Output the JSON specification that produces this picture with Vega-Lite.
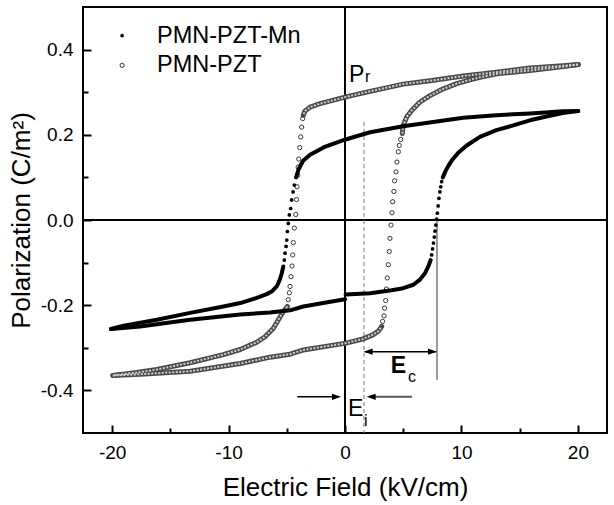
{
"$schema": "https://vega.github.io/schema/vega-lite/v6.json",
"width": 524, "height": 426,
"autosize": {"type": "none"},
"padding": {"left": 83, "top": 7, "right": 7, "bottom": 72},
"background": "white",
"config": {"view": {"stroke": "black", "strokeWidth": 2}, "font": "Liberation Sans"},
"resolve": {"axis": {"x": "independent", "y": "independent"}},
"datasets": {
"loops": [
{"i":1,"s":"A","g":"A1","E":20.03,"P":0.256},{"i":2,"s":"A","g":"A1","E":18.7,"P":0.255},{"i":3,"s":"A","g":"A1","E":15.9,"P":0.25},{"i":4,"s":"A","g":"A1","E":13.0,"P":0.246},{"i":5,"s":"A","g":"A1","E":10.15,"P":0.24},{"i":6,"s":"A","g":"A1","E":7.87,"P":0.231},{"i":7,"s":"A","g":"A1","E":5.0,"P":0.22},{"i":8,"s":"A","g":"A1","E":2.15,"P":0.206},{"i":9,"s":"A","g":"A1","E":0.05,"P":0.189},{"i":10,"s":"A","g":"A1","E":-1.8,"P":0.171},{"i":11,"s":"A","g":"A1","E":-3.0,"P":0.153},{"i":12,"s":"A","g":"A1","E":-3.6,"P":0.139},{"i":13,"s":"A","g":"A1","E":-4.0,"P":0.118},{"i":14,"s":"A","g":"A1","E":-4.2,"P":0.1},
{"i":15,"s":"A","g":"","E":-4.35,"P":0.082},{"i":16,"s":"A","g":"","E":-4.46,"P":0.066},{"i":17,"s":"A","g":"","E":-4.58,"P":0.047},{"i":18,"s":"A","g":"","E":-4.66,"P":0.027},{"i":19,"s":"A","g":"","E":-4.78,"P":0.012},{"i":20,"s":"A","g":"","E":-4.87,"P":-0.008},{"i":21,"s":"A","g":"","E":-4.95,"P":-0.027},{"i":22,"s":"A","g":"","E":-5.0,"P":-0.047},{"i":23,"s":"A","g":"","E":-5.06,"P":-0.062},{"i":24,"s":"A","g":"","E":-5.15,"P":-0.078},{"i":25,"s":"A","g":"","E":-5.21,"P":-0.094},
{"i":26,"s":"A","g":"A2","E":-5.3,"P":-0.109},{"i":27,"s":"A","g":"A2","E":-5.43,"P":-0.125},{"i":28,"s":"A","g":"A2","E":-5.6,"P":-0.14},{"i":29,"s":"A","g":"A2","E":-5.86,"P":-0.156},{"i":30,"s":"A","g":"A2","E":-6.3,"P":-0.168},{"i":31,"s":"A","g":"A2","E":-6.72,"P":-0.174},{"i":32,"s":"A","g":"A2","E":-7.58,"P":-0.183},{"i":33,"s":"A","g":"A2","E":-9.0,"P":-0.195},{"i":34,"s":"A","g":"A2","E":-10.45,"P":-0.203},{"i":35,"s":"A","g":"A2","E":-13.3,"P":-0.218},{"i":36,"s":"A","g":"A2","E":-16.16,"P":-0.234},{"i":37,"s":"A","g":"A2","E":-19.0,"P":-0.248},{"i":38,"s":"A","g":"A2","E":-20.1,"P":-0.256},
{"i":39,"s":"A","g":"A3","E":-20.1,"P":-0.256},{"i":40,"s":"A","g":"A3","E":-17.6,"P":-0.25},{"i":41,"s":"A","g":"A3","E":-13.3,"P":-0.234},{"i":42,"s":"A","g":"A3","E":-9.0,"P":-0.222},{"i":43,"s":"A","g":"A3","E":-6.44,"P":-0.217},{"i":44,"s":"A","g":"A3","E":-4.72,"P":-0.212},{"i":45,"s":"A","g":"A3","E":-3.58,"P":-0.203},{"i":46,"s":"A","g":"A3","E":-1.5,"P":-0.193},{"i":47,"s":"A","g":"A3","E":0.0,"P":-0.186},
{"i":48,"s":"A","g":"A4","E":0.05,"P":-0.175},{"i":49,"s":"A","g":"A4","E":2.15,"P":-0.172},{"i":50,"s":"A","g":"A4","E":4.0,"P":-0.165},{"i":51,"s":"A","g":"A4","E":5.0,"P":-0.16},{"i":52,"s":"A","g":"A4","E":5.87,"P":-0.152},{"i":53,"s":"A","g":"A4","E":6.44,"P":-0.14},{"i":54,"s":"A","g":"A4","E":6.87,"P":-0.125},{"i":55,"s":"A","g":"A4","E":7.15,"P":-0.109},{"i":56,"s":"A","g":"A4","E":7.36,"P":-0.094},
{"i":57,"s":"A","g":"","E":7.44,"P":-0.082},{"i":58,"s":"A","g":"","E":7.52,"P":-0.068},{"i":59,"s":"A","g":"","E":7.6,"P":-0.054},{"i":60,"s":"A","g":"","E":7.67,"P":-0.04},{"i":61,"s":"A","g":"","E":7.73,"P":-0.026},{"i":62,"s":"A","g":"","E":7.8,"P":-0.012},{"i":63,"s":"A","g":"","E":7.87,"P":0.002},{"i":64,"s":"A","g":"","E":7.93,"P":0.016},{"i":65,"s":"A","g":"","E":8.0,"P":0.033},{"i":66,"s":"A","g":"","E":8.07,"P":0.051},{"i":67,"s":"A","g":"","E":8.15,"P":0.066},{"i":68,"s":"A","g":"","E":8.22,"P":0.078},{"i":69,"s":"A","g":"","E":8.3,"P":0.09},
{"i":70,"s":"A","g":"A5","E":8.4,"P":0.1},{"i":71,"s":"A","g":"A5","E":8.6,"P":0.113},{"i":72,"s":"A","g":"A5","E":8.85,"P":0.126},{"i":73,"s":"A","g":"A5","E":9.2,"P":0.141},{"i":74,"s":"A","g":"A5","E":9.7,"P":0.157},{"i":75,"s":"A","g":"A5","E":10.45,"P":0.175},{"i":76,"s":"A","g":"A5","E":11.59,"P":0.195},{"i":77,"s":"A","g":"A5","E":13.0,"P":0.211},{"i":78,"s":"A","g":"A5","E":14.45,"P":0.222},{"i":79,"s":"A","g":"A5","E":15.88,"P":0.234},{"i":80,"s":"A","g":"A5","E":17.3,"P":0.243},{"i":81,"s":"A","g":"A5","E":18.7,"P":0.251},{"i":82,"s":"A","g":"A5","E":20.03,"P":0.256},
{"i":101,"s":"B","g":"B1","E":20.03,"P":0.365},{"i":102,"s":"B","g":"B1","E":18.74,"P":0.362},{"i":103,"s":"B","g":"B1","E":15.88,"P":0.357},{"i":104,"s":"B","g":"B1","E":13.0,"P":0.347},{"i":105,"s":"B","g":"B1","E":10.15,"P":0.338},{"i":106,"s":"B","g":"B1","E":7.3,"P":0.327},{"i":107,"s":"B","g":"B1","E":5.0,"P":0.319},{"i":108,"s":"B","g":"B1","E":2.15,"P":0.302},{"i":109,"s":"B","g":"B1","E":0.09,"P":0.289},{"i":110,"s":"B","g":"B1","E":-2.15,"P":0.273},{"i":111,"s":"B","g":"B1","E":-3.0,"P":0.265},{"i":112,"s":"B","g":"B1","E":-3.43,"P":0.256},{"i":113,"s":"B","g":"B1","E":-3.58,"P":0.246},
{"i":114,"s":"B","g":"","E":-3.63,"P":0.238},{"i":115,"s":"B","g":"","E":-3.72,"P":0.218},{"i":116,"s":"B","g":"","E":-3.8,"P":0.195},{"i":117,"s":"B","g":"","E":-3.89,"P":0.17},{"i":118,"s":"B","g":"","E":-3.97,"P":0.143},{"i":119,"s":"B","g":"","E":-4.02,"P":0.124},{"i":120,"s":"B","g":"","E":-4.06,"P":0.105},{"i":121,"s":"B","g":"","E":-4.12,"P":0.078},{"i":122,"s":"B","g":"","E":-4.16,"P":0.048},{"i":123,"s":"B","g":"","E":-4.23,"P":0.013},{"i":124,"s":"B","g":"","E":-4.35,"P":-0.019},{"i":125,"s":"B","g":"","E":-4.44,"P":-0.053},{"i":126,"s":"B","g":"","E":-4.49,"P":-0.082},{"i":127,"s":"B","g":"","E":-4.55,"P":-0.108},{"i":128,"s":"B","g":"","E":-4.64,"P":-0.133},{"i":129,"s":"B","g":"","E":-4.72,"P":-0.156},{"i":130,"s":"B","g":"","E":-4.78,"P":-0.171},{"i":131,"s":"B","g":"","E":-4.87,"P":-0.187},
{"i":132,"s":"B","g":"B2","E":-4.95,"P":-0.203},{"i":133,"s":"B","g":"B2","E":-5.3,"P":-0.215},{"i":134,"s":"B","g":"B2","E":-5.72,"P":-0.234},{"i":135,"s":"B","g":"B2","E":-6.15,"P":-0.254},{"i":136,"s":"B","g":"B2","E":-6.87,"P":-0.274},{"i":137,"s":"B","g":"B2","E":-7.58,"P":-0.287},{"i":138,"s":"B","g":"B2","E":-9.0,"P":-0.304},{"i":139,"s":"B","g":"B2","E":-10.45,"P":-0.316},{"i":140,"s":"B","g":"B2","E":-13.3,"P":-0.335},{"i":141,"s":"B","g":"B2","E":-16.16,"P":-0.351},{"i":142,"s":"B","g":"B2","E":-18.17,"P":-0.359},{"i":143,"s":"B","g":"B2","E":-19.94,"P":-0.365},
{"i":144,"s":"B","g":"B3","E":-19.94,"P":-0.365},{"i":145,"s":"B","g":"B3","E":-17.6,"P":-0.362},{"i":146,"s":"B","g":"B3","E":-13.3,"P":-0.355},{"i":147,"s":"B","g":"B3","E":-9.0,"P":-0.337},{"i":148,"s":"B","g":"B3","E":-6.44,"P":-0.322},{"i":149,"s":"B","g":"B3","E":-4.72,"P":-0.315},{"i":150,"s":"B","g":"B3","E":-3.58,"P":-0.305},{"i":151,"s":"B","g":"B3","E":0.09,"P":-0.289},{"i":152,"s":"B","g":"B3","E":1.57,"P":-0.279},{"i":153,"s":"B","g":"B3","E":2.43,"P":-0.269},{"i":154,"s":"B","g":"B3","E":2.86,"P":-0.261},{"i":155,"s":"B","g":"B3","E":3.15,"P":-0.25},
{"i":156,"s":"B","g":"","E":3.23,"P":-0.238},{"i":157,"s":"B","g":"","E":3.35,"P":-0.225},{"i":158,"s":"B","g":"","E":3.4,"P":-0.207},{"i":159,"s":"B","g":"","E":3.49,"P":-0.189},{"i":160,"s":"B","g":"","E":3.56,"P":-0.162},{"i":161,"s":"B","g":"","E":3.63,"P":-0.136},{"i":162,"s":"B","g":"","E":3.72,"P":-0.105},{"i":163,"s":"B","g":"","E":3.8,"P":-0.074},{"i":164,"s":"B","g":"","E":3.86,"P":-0.043},{"i":165,"s":"B","g":"","E":3.95,"P":-0.012},{"i":166,"s":"B","g":"","E":4.03,"P":0.017},{"i":167,"s":"B","g":"","E":4.1,"P":0.043},{"i":168,"s":"B","g":"","E":4.2,"P":0.067},{"i":169,"s":"B","g":"","E":4.26,"P":0.092},{"i":170,"s":"B","g":"","E":4.38,"P":0.113},{"i":171,"s":"B","g":"","E":4.46,"P":0.136},{"i":172,"s":"B","g":"","E":4.58,"P":0.16},{"i":173,"s":"B","g":"","E":4.66,"P":0.175},{"i":174,"s":"B","g":"","E":4.78,"P":0.189},
{"i":175,"s":"B","g":"B4","E":4.92,"P":0.203},{"i":176,"s":"B","g":"B4","E":5.0,"P":0.222},{"i":177,"s":"B","g":"B4","E":5.3,"P":0.242},{"i":178,"s":"B","g":"B4","E":5.72,"P":0.257},{"i":179,"s":"B","g":"B4","E":6.44,"P":0.277},{"i":180,"s":"B","g":"B4","E":7.3,"P":0.292},{"i":181,"s":"B","g":"B4","E":8.44,"P":0.308},{"i":182,"s":"B","g":"B4","E":9.59,"P":0.32},{"i":183,"s":"B","g":"B4","E":10.73,"P":0.329},{"i":184,"s":"B","g":"B4","E":11.59,"P":0.335},{"i":185,"s":"B","g":"B4","E":13.0,"P":0.343},{"i":186,"s":"B","g":"B4","E":15.88,"P":0.351},{"i":187,"s":"B","g":"B4","E":18.74,"P":0.36},{"i":188,"s":"B","g":"B4","E":20.03,"P":0.365}
],
"zeroV": [{"E": 0}],
"zeroH": [{"P": 0}],
"dashV": [{"E": 1.63, "P": 0.23, "P2": -0.5}],
"solidV": [{"E": 7.9, "P": 0.0, "P2": -0.375}],
"blackH": [{"E": 1.7, "E2": 7.8, "P": -0.309}, {"E": -4.1, "E2": -0.6, "P": -0.415}],
"greyH": [{"E": 2.1, "E2": 5.75, "P": -0.415}],
"headR": [{"E": 7.51, "P": -0.309}, {"E": -0.73, "P": -0.415}],
"headL": [{"E": 1.99, "P": -0.309}, {"E": 2.25, "P": -0.415}],
"bigTxt": [{"E": 0.34, "P": 0.325, "t": "P"}, {"E": 0.26, "P": -0.461, "t": "E"}],
"boldTxt": [{"E": 3.92, "P": -0.358, "t": "E"}],
"subTxt": [{"E": 1.72, "P": 0.325, "t": "r"}, {"E": 5.4, "P": -0.381, "t": "c"}, {"E": 1.63, "P": -0.484, "t": "i"}],
"legend": [{"s": "A", "E": -19.14, "TE": -16.14, "P": 0.433, "label": "PMN-PZT-Mn"}, {"s": "B", "E": -19.14, "TE": -16.14, "P": 0.363, "label": "PMN-PZT"}]
},
"layer": [
{"data": {"name": "zeroV"}, "mark": {"type": "rule", "color": "black", "strokeWidth": 2},
 "encoding": {"x": {"field": "E", "type": "quantitative", "scale": {"domain": [-22.5, 22.5], "nice": false, "zero": false},
   "axis": {"title": "Electric Field (kV/cm)", "orient": "bottom", "values": [-20,-10,0,10,20], "labelExpr": "'' + datum.value",
     "ticks": true, "tickSize": -8, "tickColor": "black", "tickWidth": 2, "tickOpacity": 1,
     "domain": false, "grid": false, "labelFontSize": 19, "labelColor": "black", "labelFont": "Liberation Sans", "labelPadding": 18,
     "titleFontSize": 26, "titleFont": "Liberation Sans", "titleFontWeight": "normal", "titleColor": "black", "titlePadding": 12}}}},
{"data": {"name": "zeroH"}, "mark": {"type": "rule", "color": "black", "strokeWidth": 2},
 "encoding": {"y": {"field": "P", "type": "quantitative", "scale": {"domain": [-0.5, 0.5], "nice": false, "zero": false},
   "axis": {"title": "Polarization (C/m²)", "orient": "left", "values": [-0.4,-0.2,0,0.2,0.4], "labelExpr": "replace(format(datum.value, '.1f'), '−', '-')",
     "ticks": true, "tickSize": -8, "tickColor": "black", "tickWidth": 2, "tickOpacity": 1,
     "domain": false, "grid": false, "labelFontSize": 19, "labelColor": "black", "labelFont": "Liberation Sans", "labelPadding": 18,
     "titleFontSize": 26, "titleFont": "Liberation Sans", "titleFontWeight": "normal", "titleColor": "black", "titlePadding": 6}}}},
{"data": {"name": "dashV"}, "mark": {"type": "rule", "color": "#777777", "strokeWidth": 1, "strokeDash": [4, 3]},
 "encoding": {"x": {"field": "E", "type": "quantitative", "axis": {"orient": "bottom", "values": [-15,-5,5,15], "labels": false, "title": null, "ticks": true, "tickSize": -5, "tickColor": "black", "tickWidth": 2, "tickOpacity": 1, "domain": false, "grid": false}},
  "y": {"field": "P", "type": "quantitative", "axis": {"orient": "left", "values": [-0.3,-0.1,0.1,0.3], "labels": false, "title": null, "ticks": true, "tickSize": -5, "tickColor": "black", "tickWidth": 2, "tickOpacity": 1, "domain": false, "grid": false}}, "y2": {"field": "P2"}}},
{"data": {"name": "solidV"}, "mark": {"type": "rule", "color": "#555555", "strokeWidth": 1.2},
 "encoding": {"x": {"field": "E", "type": "quantitative", "axis": null}, "y": {"field": "P", "type": "quantitative", "axis": null}, "y2": {"field": "P2"}}},
{"data": {"name": "loops"}, "transform": [{"filter": "datum.s === 'B' && datum.g !== ''"}],
 "mark": {"type": "line", "color": "#4a4a4a", "strokeWidth": 5, "strokeJoin": "round", "strokeCap": "round"},
 "encoding": {"x": {"field": "E", "type": "quantitative", "axis": null}, "y": {"field": "P", "type": "quantitative", "axis": null}, "detail": {"field": "g"}, "order": {"field": "i", "type": "quantitative"}}},
{"data": {"name": "loops"}, "transform": [{"filter": "datum.s === 'B' && datum.g !== ''"}],
 "mark": {"type": "line", "color": "#d0d0d0", "strokeWidth": 2, "strokeDash": [2, 1.5]},
 "encoding": {"x": {"field": "E", "type": "quantitative", "axis": null}, "y": {"field": "P", "type": "quantitative", "axis": null}, "detail": {"field": "g"}, "order": {"field": "i", "type": "quantitative"}}},
{"data": {"name": "loops"}, "transform": [{"filter": "datum.s === 'B' && datum.g === ''"}],
 "mark": {"type": "point", "shape": "circle", "filled": false, "color": "#222222", "size": 18, "strokeWidth": 0.9, "opacity": 1},
 "encoding": {"x": {"field": "E", "type": "quantitative", "axis": null}, "y": {"field": "P", "type": "quantitative", "axis": null}}},
{"data": {"name": "loops"}, "transform": [{"filter": "datum.s === 'A' && datum.g !== ''"}],
 "mark": {"type": "line", "color": "black", "strokeWidth": 4, "strokeJoin": "round", "strokeCap": "round"},
 "encoding": {"x": {"field": "E", "type": "quantitative", "axis": null}, "y": {"field": "P", "type": "quantitative", "axis": null}, "detail": {"field": "g"}, "order": {"field": "i", "type": "quantitative"}}},
{"data": {"name": "loops"}, "transform": [{"filter": "datum.s === 'A' && datum.g === ''"}],
 "mark": {"type": "point", "shape": "circle", "filled": true, "color": "black", "size": 14, "opacity": 1},
 "encoding": {"x": {"field": "E", "type": "quantitative", "axis": null}, "y": {"field": "P", "type": "quantitative", "axis": null}}},
{"data": {"name": "blackH"}, "mark": {"type": "rule", "color": "black", "strokeWidth": 1.5},
 "encoding": {"x": {"field": "E", "type": "quantitative", "axis": null}, "x2": {"field": "E2"}, "y": {"field": "P", "type": "quantitative", "axis": null}}},
{"data": {"name": "greyH"}, "mark": {"type": "rule", "color": "#555555", "strokeWidth": 2},
 "encoding": {"x": {"field": "E", "type": "quantitative", "axis": null}, "x2": {"field": "E2"}, "y": {"field": "P", "type": "quantitative", "axis": null}}},
{"data": {"name": "headR"}, "mark": {"type": "point", "shape": "M-1,-0.7L1,0L-1,0.7Z", "filled": true, "color": "black", "size": 81, "opacity": 1},
 "encoding": {"x": {"field": "E", "type": "quantitative", "axis": null}, "y": {"field": "P", "type": "quantitative", "axis": null}}},
{"data": {"name": "headL"}, "mark": {"type": "point", "shape": "M1,-0.7L-1,0L1,0.7Z", "filled": true, "color": "black", "size": 81, "opacity": 1},
 "encoding": {"x": {"field": "E", "type": "quantitative", "axis": null}, "y": {"field": "P", "type": "quantitative", "axis": null}}},
{"data": {"name": "bigTxt"}, "mark": {"type": "text", "fontSize": 23, "align": "left", "baseline": "alphabetic", "color": "black", "font": "Liberation Sans"},
 "encoding": {"x": {"field": "E", "type": "quantitative", "axis": null}, "y": {"field": "P", "type": "quantitative", "axis": null}, "text": {"field": "t"}}},
{"data": {"name": "boldTxt"}, "mark": {"type": "text", "fontSize": 23, "fontWeight": "bold", "align": "left", "baseline": "alphabetic", "color": "black", "font": "Liberation Sans"},
 "encoding": {"x": {"field": "E", "type": "quantitative", "axis": null}, "y": {"field": "P", "type": "quantitative", "axis": null}, "text": {"field": "t"}}},
{"data": {"name": "subTxt"}, "mark": {"type": "text", "fontSize": 16, "align": "left", "baseline": "alphabetic", "color": "black", "font": "Liberation Sans"},
 "encoding": {"x": {"field": "E", "type": "quantitative", "axis": null}, "y": {"field": "P", "type": "quantitative", "axis": null}, "text": {"field": "t"}}},
{"data": {"name": "legend"}, "transform": [{"filter": "datum.s === 'A'"}], "mark": {"type": "point", "shape": "circle", "filled": true, "color": "black", "size": 14, "opacity": 1},
 "encoding": {"x": {"field": "E", "type": "quantitative", "axis": null}, "y": {"field": "P", "type": "quantitative", "axis": null}}},
{"data": {"name": "legend"}, "transform": [{"filter": "datum.s === 'B'"}], "mark": {"type": "point", "shape": "circle", "filled": false, "color": "#222222", "size": 18, "strokeWidth": 0.9, "opacity": 1},
 "encoding": {"x": {"field": "E", "type": "quantitative", "axis": null}, "y": {"field": "P", "type": "quantitative", "axis": null}}},
{"data": {"name": "legend"}, "mark": {"type": "text", "fontSize": 23.5, "align": "left", "baseline": "middle", "color": "black", "font": "Liberation Sans"},
 "encoding": {"x": {"field": "TE", "type": "quantitative", "axis": null}, "y": {"field": "P", "type": "quantitative", "axis": null}, "text": {"field": "label"}}}
]
}
